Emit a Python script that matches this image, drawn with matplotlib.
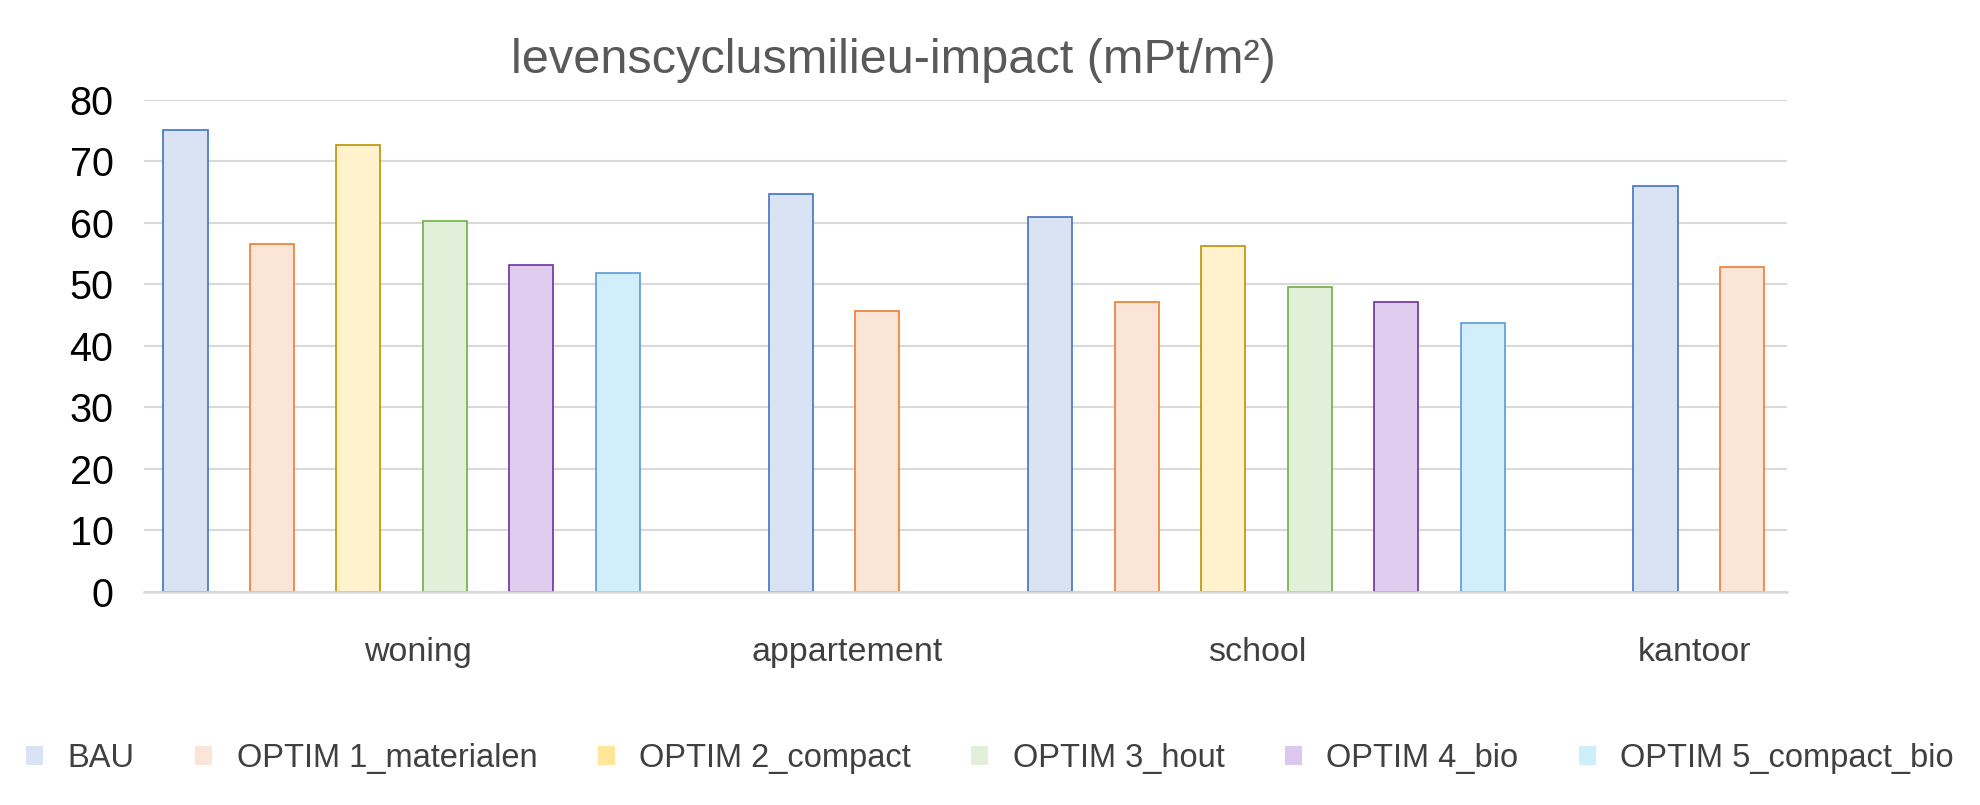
import numpy as np
import matplotlib
matplotlib.use("Agg")
import matplotlib.pyplot as plt
from matplotlib.patches import Patch
from matplotlib.transforms import blended_transform_factory

plt.rcParams['font.family'] = ['Liberation Sans', 'DejaVu Sans']

# data
categories = ["woning", "appartement", "school", "kantoor"]
series = ["BAU", "OPTIM 1_materialen", "OPTIM 2_compact", "OPTIM 3_hout",
          "OPTIM 4_bio", "OPTIM 5_compact_bio"]
bau = [75.1, 64.7, 61.0, 66.0]
optim1 = [56.6, 45.7, 47.2, 52.8]
optim2 = [72.6, None, 56.3, None]
optim3 = [60.3, None, 49.6, None]
optim4 = [53.1, None, 47.1, None]
optim5 = [51.8, None, 43.7, None]
values = [bau, optim1, optim2, optim3, optim4, optim5]

fills = ["#DAE3F3", "#FBE5D6", "#FFF2CC", "#E2F0D9", "#DFCCEF", "#D1EEFB"]
edges = ["#4472C4", "#ED7D31", "#BF9000", "#70AD47", "#7030A0", "#5B9BD5"]
legend_fills = ["#DAE3F3", "#FBE5D6", "#FFE699", "#E2F0D9", "#DCC8EE", "#CDEEFB"]

fig = plt.figure(figsize=(19.8, 8.05), dpi=100)
ax = fig.add_axes([0.0727, 0.2646, 0.8298, 0.6112])

# each category only takes as many slots as it has values, plus one gap slot
slot = 0
centers = []
for ci in range(len(categories)):
    start = slot
    for si in range(len(series)):
        v = values[si][ci]
        if v is None:
            continue
        ax.bar(slot, v, width=0.51, color=fills[si], edgecolor=edges[si],
               linewidth=1.2, zorder=3)
        slot += 1
    centers.append((start + slot - 1) / 2)
    slot += 1

ax.set_xlim(-0.48, slot - 1 - 0.48)
ax.set_ylim(0, 80)
ax.set_yticks(range(0, 81, 10))
ax.yaxis.grid(True, color="#D9D9D9", linewidth=1.5, zorder=0)
ax.set_axisbelow(True)
ax.set_xticks([])
ax.tick_params(axis="y", length=0, pad=22, labelsize=28.5, labelcolor="black")
for s in ["top", "right", "left"]:
    ax.spines[s].set_visible(False)
ax.spines["bottom"].set_color("#D9D9D9")
ax.spines["bottom"].set_linewidth(1.8)
ax.spines["bottom"].set_zorder(4)

# category labels sit a little off the group centres, as in the original
label_shift = [0.19, 0.15, -0.1, -0.05]
trans = blended_transform_factory(ax.transData, fig.transFigure)
for c, d, name in zip(centers, label_shift, categories):
    ax.text(c + d, 0.19, name, transform=trans, ha="center", va="center",
            fontsize=24.5, color="#404040")

fig.text(0.451, 0.925, "levenscyclusmilieu-impact (mPt/m²)", ha="center",
         va="center", fontsize=35, color="#595959")

handles = [Patch(facecolor=f, edgecolor="none") for f in legend_fills]
fig.legend(handles, series, loc="center", bbox_to_anchor=(0.5, 0.058),
           ncol=6, frameon=False, fontsize=23.5, labelcolor="#404040",
           handlelength=0.52, handleheight=0.52, handletextpad=0.75,
           columnspacing=1.85)

fig.savefig("out.png", dpi=100)
